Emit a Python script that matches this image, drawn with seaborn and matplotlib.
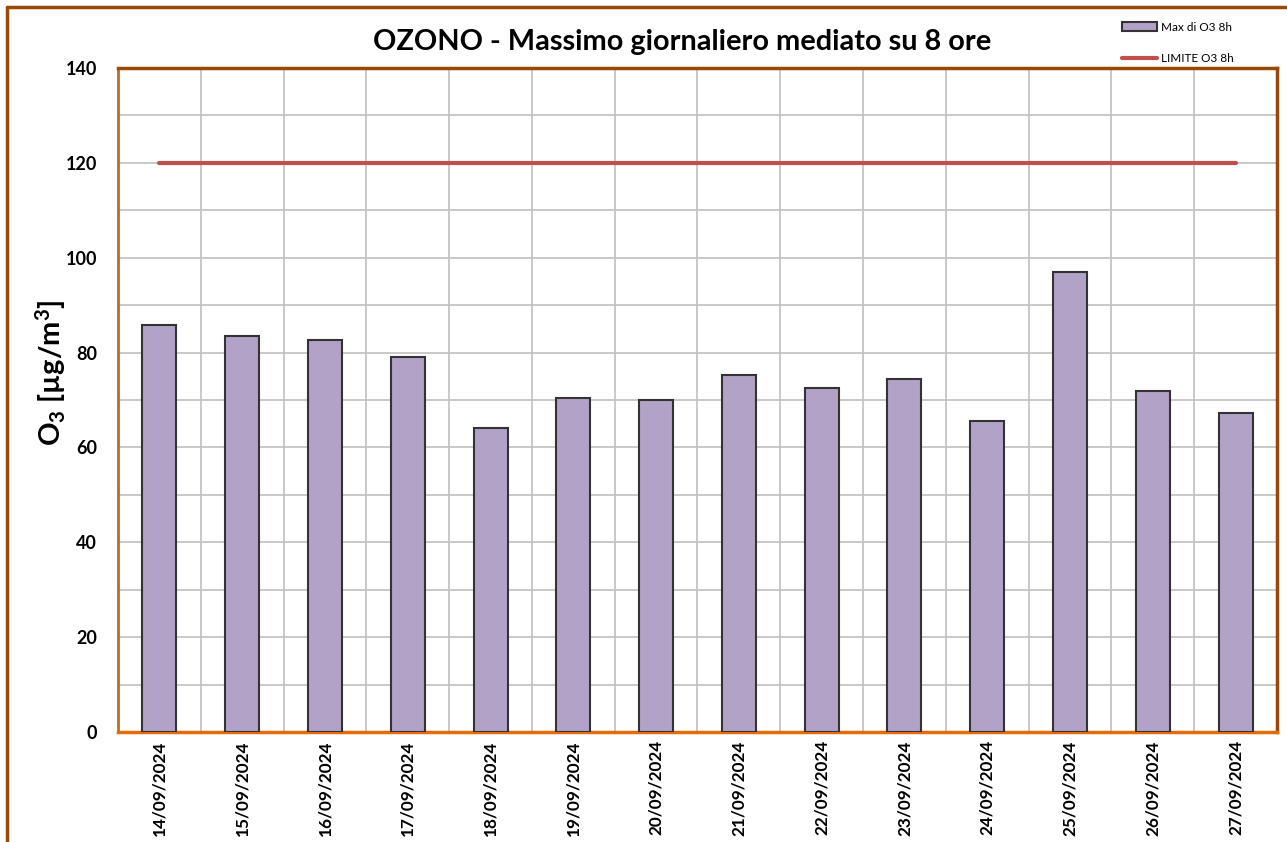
import matplotlib
matplotlib.use("Agg")
import matplotlib.pyplot as plt
from matplotlib.lines import Line2D
from matplotlib.ticker import MultipleLocator
import pandas as pd
import seaborn as sns

# data
dates = ["14/09/2024", "15/09/2024", "16/09/2024", "17/09/2024", "18/09/2024",
         "19/09/2024", "20/09/2024", "21/09/2024", "22/09/2024", "23/09/2024",
         "24/09/2024", "25/09/2024", "26/09/2024", "27/09/2024"]
max_o3_8h = [85.8, 83.5, 82.6, 79.1, 64.1, 70.4, 70.0, 75.3, 72.5, 74.4,
             65.6, 97.0, 71.9, 67.3]
limite_o3_8h = [120] * len(dates)

df = pd.DataFrame({"data": dates, "max": max_o3_8h, "limite": limite_o3_8h})

sns.set_style("white")
plt.rcParams["font.family"] = ["Lato", "DejaVu Sans"]
plt.rcParams["text.color"] = "black"
plt.rcParams["axes.labelcolor"] = "black"
plt.rcParams["xtick.labelcolor"] = "black"
plt.rcParams["ytick.labelcolor"] = "black"
plt.rcParams["mathtext.fontset"] = "custom"
plt.rcParams["mathtext.rm"] = "Lato:bold"
plt.rcParams["mathtext.it"] = "Lato:bold"
plt.rcParams["mathtext.bf"] = "Lato:bold"

fig = plt.figure(figsize=(12.87, 8.42), dpi=100)
ax = fig.add_axes([0.0917, 0.1306, 0.9005, 0.7886])

# bars
sns.barplot(x="data", y="max", data=df, ax=ax, color="#B2A2C7",
            saturation=1, width=0.41, edgecolor="#333333", linewidth=1.5,
            label="Max di O3 8h", zorder=3, legend=False)

# limit line
ax.plot(range(len(dates)), df["limite"], color="#C0504D", linewidth=3,
        label="LIMITE O3 8h", zorder=4)
if ax.get_legend() is not None:
    ax.get_legend().remove()

ax.set_xlim(-0.5, len(dates) - 0.5)
ax.set_ylim(0, 140)
ax.yaxis.set_major_locator(MultipleLocator(20))
ax.yaxis.set_minor_locator(MultipleLocator(10))

# gridlines: horizontal every 10, vertical at category boundaries
ax.grid(False)
for y in range(10, 140, 10):
    ax.axhline(y, color="#C0C0C0", linewidth=1.2, zorder=1)
for k in range(1, len(dates)):
    ax.axvline(k - 0.5, color="#C0C0C0", linewidth=1.2, zorder=1)

ax.set_xticks([k - 0.5 for k in range(len(dates) + 1)])
ax.set_xticklabels([])
ax.set_xticks(range(len(dates)), minor=True)
ax.set_xticklabels(dates, minor=True, rotation=90, fontsize=12.3,
                   fontweight="bold")
ax.tick_params(axis="x", which="major", length=6, width=1.5,
               color="#E36C09", direction="out")
ax.tick_params(axis="x", which="minor", length=0, pad=6)
ax.tick_params(axis="y", which="major", length=5, color="#808080",
               labelsize=13, direction="out", pad=10)
ax.tick_params(axis="y", which="minor", length=0)
for lab in ax.get_yticklabels():
    lab.set_fontweight("bold")

for side in ["top", "right"]:
    ax.spines[side].set_color("#984807")
    ax.spines[side].set_linewidth(2.5)
ax.spines["left"].set_color("#C0692B")
ax.spines["left"].set_linewidth(2)
ax.spines["bottom"].set_color("#E36C09")
ax.spines["bottom"].set_linewidth(2.5)

ax.set_xlabel("")
ax.set_ylabel(r"O$_3$ [µg/m$^3$]", fontsize=21, fontweight="bold")
ax.yaxis.set_label_coords(-0.043, 0.542)

fig.text(0.53, 0.95, "OZONO - Massimo giornaliero mediato su 8 ore",
         ha="center", va="center", fontsize=20.8, fontweight="bold")

handles, labels = ax.get_legend_handles_labels()
order = [labels.index("Max di O3 8h"), labels.index("LIMITE O3 8h")]
fig.legend([handles[i] for i in order], [labels[i] for i in order],
           loc="upper right", bbox_to_anchor=(0.9665, 0.987), frameon=False,
           fontsize=8.5, handlelength=3, labelspacing=1.75, handletextpad=0.3)

# outer chart-area border (left and top visible)
fig.add_artist(Line2D([0.0055, 0.0055], [0, 0.9917], color="#984807",
                      linewidth=2.5, transform=fig.transFigure))
fig.add_artist(Line2D([0.0055, 1.0], [0.9917, 0.9917], color="#984807",
                      linewidth=2.5, transform=fig.transFigure))

fig.savefig("out.png", dpi=100)
plt.close(fig)
